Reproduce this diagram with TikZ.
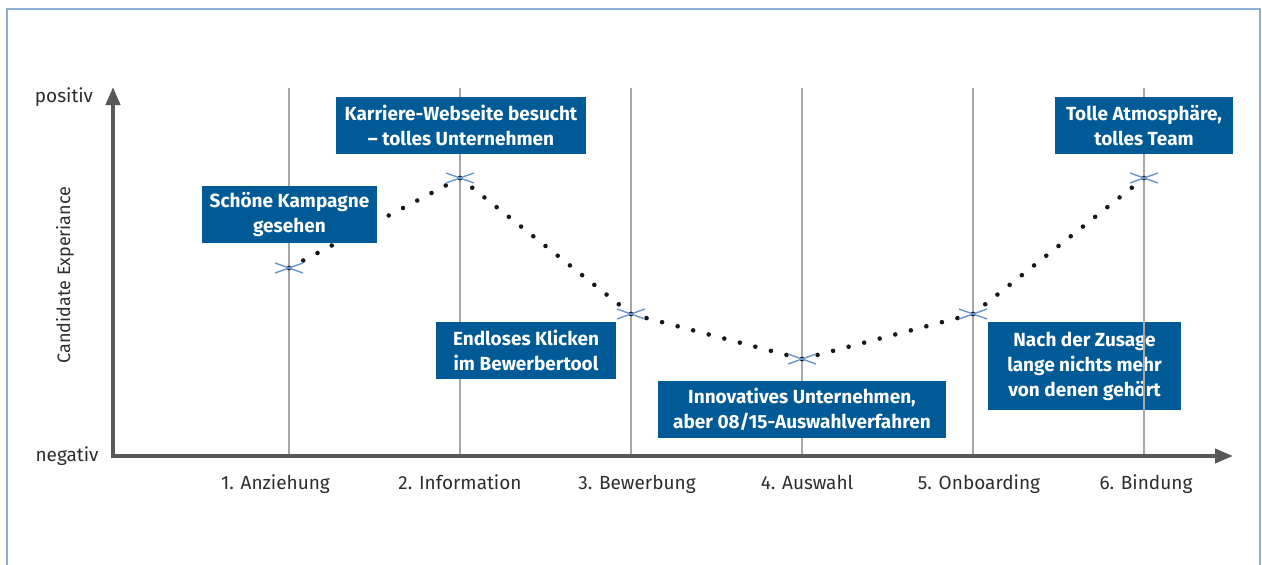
\documentclass[tikz,border=0pt]{standalone}
\usepackage{fontspec}
\setmainfont{Fira Sans}
\usetikzlibrary{arrows.meta,calc}
\definecolor{boxblue}{RGB}{0,90,150}
\definecolor{axisgray}{RGB}{88,88,88}
\definecolor{gridgray}{RGB}{168,168,168}
\definecolor{crossblue}{RGB}{105,150,205}
\definecolor{frameblue}{RGB}{140,175,215}
\definecolor{txtgray}{RGB}{45,45,45}
\definecolor{dotblack}{RGB}{25,25,25}
\begin{document}
\begin{tikzpicture}[x=1pt,y=-1pt,
  frameline/.style={draw=frameblue,line width=2},
  gridline/.style={draw=gridgray,line width=1.5},
  axisline/.style={draw=axisgray,line width=4,line join=miter,
    arrows={Triangle[length=18pt,width=14pt]-Triangle[length=18pt,width=14pt]}},
  crossmark/.style={draw=crossblue,line width=1.4},
  notebox/.style={fill=boxblue,text=white,align=center,inner sep=0pt,
    font=\fontsize{19}{25}\selectfont\bfseries,minimum height=57},
  stagelabel/.style={text=txtgray,anchor=base,inner sep=0pt,
    font=\fontsize{19}{22}\selectfont},
  axislabel/.style={text=txtgray,inner sep=0pt,font=\fontsize{19}{22}\selectfont}]
\useasboundingbox (0,0) rectangle (1262,565);

% outer frame, open at the bottom
\draw[frameline] (7,565) -- (7,9) -- (1260,9) -- (1260,565);

% curve points of the six stages
\coordinate (p1) at (289,268);
\coordinate (p2) at (460,178);
\coordinate (p3) at (631,314);
\coordinate (p4) at (802,359);
\coordinate (p5) at (973,314);
\coordinate (p6) at (1144,178);
\coordinate (origin) at (113,456);
\coordinate (ytip) at (113,87);
\coordinate (xtip) at (1233,456);

% vertical stage lines
\foreach \p in {p1,p2,p3,p4,p5,p6}
  \draw[gridline] (\p |- 0,88) -- (\p |- origin);

% axes
\draw[axisline] (ytip) -- (origin) -- (xtip);

% dotted experience curve
\foreach \a/\b/\n in {p1/p2/12,p2/p3/14,p3/p4/11,p4/p5/11,p5/p6/14}
  \foreach \i in {0,...,\n}
    \fill[dotblack] ($(\a)!\i/\n!(\b)$) circle[radius=2.3];

% cross marks at the stage points
\foreach \p in {p1,p2,p3,p4,p5,p6}{
  \draw[crossmark] ($(\p)+(-14,-5)$) -- ($(\p)+(14,5)$);
  \draw[crossmark] ($(\p)+(-14,5)$) -- ($(\p)+(14,-5)$);
}

% comment boxes
\node[notebox,minimum width=175] (n1) at (289.5,214.5) {Schöne Kampagne\\gesehen};
\node[notebox,minimum width=250] (n2) at (461,125.5) {Karriere-Webseite besucht\\– tolles Unternehmen};
\node[notebox,minimum width=180] (n3) at (526,350.5) {Endloses Klicken\\im Bewerbertool};
\node[notebox,minimum width=288] (n4) at (802,409.5) {Innovatives Unternehmen,\\aber 08/15-Auswahlverfahren};
\node[notebox,minimum width=178] (n6) at (1144,125.5) {Tolle Atmosphäre,\\tolles Team};
\node[notebox,minimum width=193,minimum height=88] (n5) at (1084.5,366) {Nach der Zusage\\lange nichts mehr\\von denen gehört};
\draw[gridline] (n5.north -| p6) -- (n5.south -| p6);

% axis labels
\node[axislabel] (pos) at (64,97) {positiv};
\node[axislabel] (neg) at (67,456) {negativ};
\node[axislabel,rotate=90,font=\fontsize{18}{22}\selectfont] (ce) at (65,275) {Candidate Experiance};

% stage labels
\node[stagelabel] (s1) at (275.5,489) {1. Anziehung};
\node[stagelabel] (s2) at (460,489) {2. Information};
\node[stagelabel] (s3) at (637,489) {3. Bewerbung};
\node[stagelabel] (s4) at (807,489) {4. Auswahl};
\node[stagelabel] (s5) at (979,489) {5. Onboarding};
\node[stagelabel] (s6) at (1146,489) {6. Bindung};
\end{tikzpicture}
\end{document}
